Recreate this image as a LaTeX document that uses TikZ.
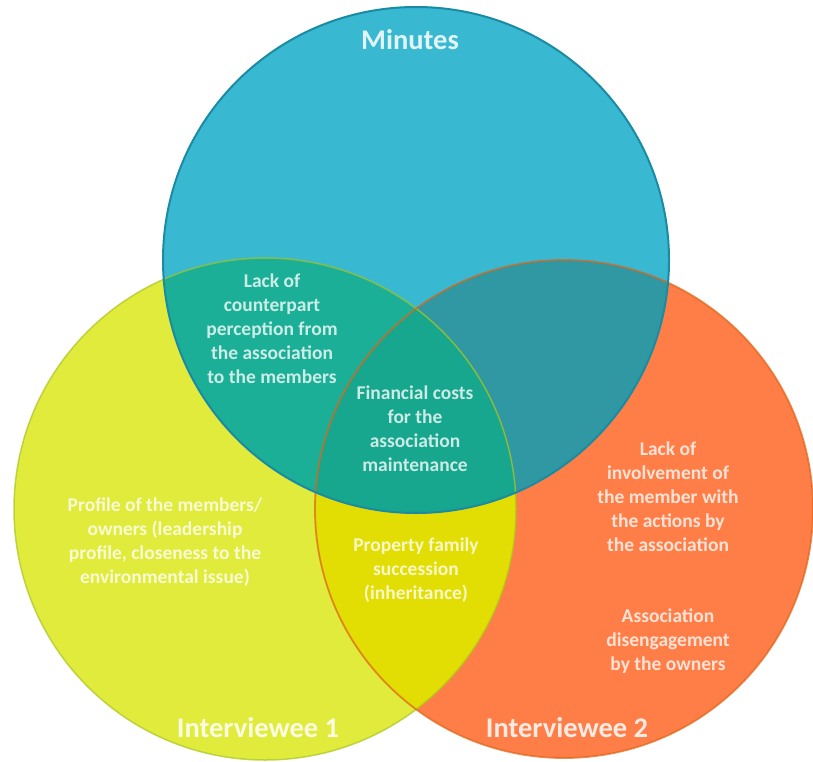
\documentclass[tikz,border=0pt]{standalone}
\usepackage{fontspec}
\setmainfont{Carlito}
\definecolor{yel}{HTML}{E1EB3C}
\definecolor{org}{HTML}{FF7E47}
\definecolor{blu}{HTML}{38B8D1}
\definecolor{blyl}{HTML}{1AAF96}
\definecolor{blor}{HTML}{2F98A3}
\definecolor{ylor}{HTML}{E2DD02}
\definecolor{mid}{HTML}{17A68E}
\definecolor{bluline}{HTML}{1B8BA3}
\definecolor{yelline}{HTML}{A9C520}
\definecolor{orgline}{HTML}{DE6416}
\tikzset{
  lbl/.style={align=center, text=white, text opacity=0.78,
    font=\fontsize{19.5}{24}\selectfont\bfseries, inner sep=0pt},
  title/.style={text=white, text opacity=0.85,
    font=\fontsize{28.5}{30}\selectfont\bfseries, inner sep=0pt}
}
\begin{document}
\begin{tikzpicture}[x=1pt,y=-1pt]
\useasboundingbox (0,0) rectangle (813,762);
% circle centres
\coordinate (T) at (416,260);
\coordinate (L) at (265,509);
\coordinate (R) at (564,509);
\def\rT{253pt}\def\rL{251pt}\def\rR{249pt}
% single-set fills
\fill[yel] (L) circle[radius=\rL];
\fill[org] (R) circle[radius=\rR];
\fill[blu] (T) circle[radius=\rT];
% pairwise overlaps
\begin{scope}\clip (T) circle[radius=\rT]; \fill[blyl] (L) circle[radius=\rL];\end{scope}
\begin{scope}\clip (T) circle[radius=\rT]; \fill[blor] (R) circle[radius=\rR];\end{scope}
\begin{scope}\clip (L) circle[radius=\rL]; \fill[ylor] (R) circle[radius=\rR];\end{scope}
% common centre
\begin{scope}\clip (T) circle[radius=\rT]; \clip (L) circle[radius=\rL];
  \fill[mid] (R) circle[radius=\rR];\end{scope}
% outlines
\draw[yelline, line width=1.5pt, draw opacity=0.7] (L) circle[radius=\rL];
\draw[orgline, line width=1.8pt, draw opacity=0.7] (R) circle[radius=\rR];
\draw[bluline, line width=2pt] (T) circle[radius=\rT];
% set titles
\node[title] (tMin) at (410,40) {Minutes};
\node[title] (tI1) at (258,728) {Interviewee 1};
\node[title] (tI2) at (567,728) {Interviewee 2};
% region labels
\node[lbl] (aTL) at (272,329) {Lack of\\counterpart\\perception from\\the association\\to the members};
\node[lbl] (aMid) at (415,429) {Financial costs\\for the\\association\\maintenance};
\node[lbl] (aL) at (165,542) {Profile of the members/\\owners (leadership\\profile, closeness to the\\environmental issue)};
\node[lbl] (aLR) at (416,570) {Property family\\succession\\(inheritance)};
\node[lbl] (aR1) at (668,497) {Lack of\\involvement of\\the member with\\the actions by\\the association};
\node[lbl] (aR2) at (668,641) {Association\\disengagement\\by the owners};
\end{tikzpicture}
\end{document}
